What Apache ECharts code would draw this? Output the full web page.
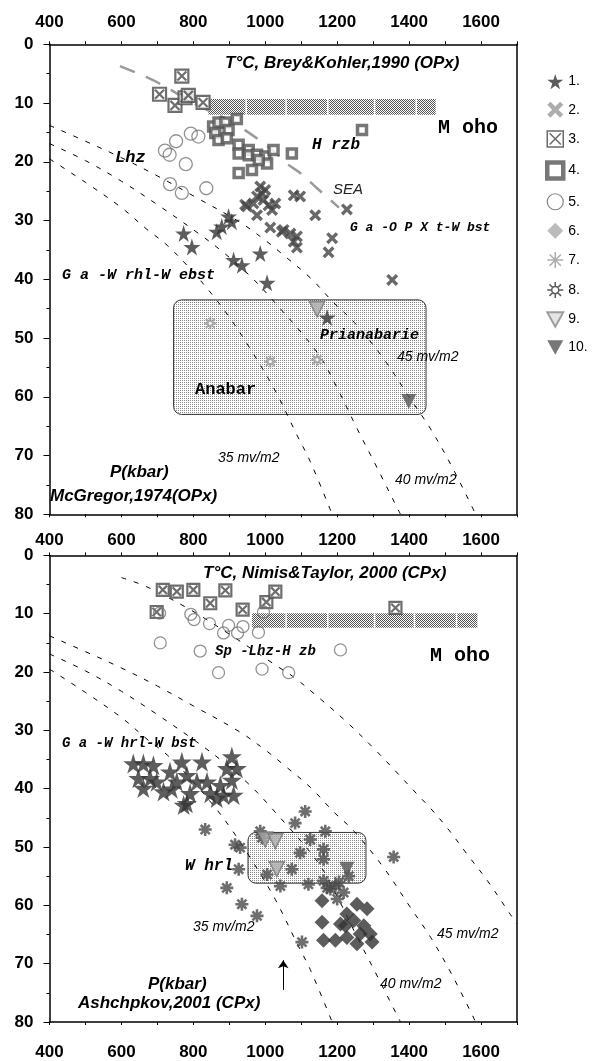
<!DOCTYPE html>
<html>
<head>
<meta charset="utf-8">
<title>P-T diagram</title>
<script src="https://cdn.jsdelivr.net/npm/echarts@6.0.0/dist/echarts.min.js"></script>
<style>
  html, body { margin: 0; padding: 0; background: #fff; }
  #main { width: 596px; height: 1061px; }
</style>
</head>
<body>
<div id="main"></div>
<script>
// --- top panel (Brey & Kohler 1990, OPx) ---
var topStars = [[773,32.2],[796,34.5],[865,31.9],[879,31],[898,29.3],[907,30.2],[912,36.7],[935,37.6],[986,35.6],[1005,40.6],[1172,46.5]];
var topCross = [[986,24.2],[991,25.4],[977,25.9],[995,26.5],[967,27.1],[1009,27.4],[1028,27.1],[949,27.6],[977,29.1],[1019,28.2],
  [1000,24.8],[944,27.3],[1079,25.7],[1097,25.9],[1139,29.1],[1227,28.1],[1014,31.2],[1046,31.9],[1051,31.6],[1070,32.2],
  [1088,32.7],[1079,33.6],[1088,34.6],[1186,33],[1176,35.4],[1353,40.1]];
var topBoxX = [[768,5.4],[706,8.5],[749,10.4],[777,9.1],[786,8.7],[827,9.9]];
var topSquares = [[855,14],[870,13.3],[889,13.3],[921,12.7],[861,15.1],[898,14.6],[870,16.3],[893,16],[926,17.1],[926,18.6],
  [954,18],[954,18.9],[977,18.8],[1000,19.1],[1005,20.3],[982,19.7],[926,21.9],[963,21.4],[1023,18],[1074,18.6],[1269,14.6]];
var topCircles = [[721,18.1],[734,18.8],[752,16.5],[793,15.2],[814,15.7],[779,20.4],[735,23.8],[768,25.3],[836,24.5]];
var topSun = [[847,47.5],[1014,54],[1144,53.7]];
var topTriOpen = [[1144,45.1]];
var topTriFill = [[1399,60.8]];

// --- bottom panel (Nimis & Taylor 2000, CPx) ---
var botBoxX = [[715,5.9],[754,6.2],[800,5.9],[847,8.2],[889,6],[937,9.3],[1003,8],[1028,6.2],[698,9.7],[1362,9]];
var botCircles = [[706,9.9],[793,10.1],[802,11],[845,11.7],[884,13.3],[898,12],[923,13.3],[938,12.2],[995,9.7],[981,13.2],
  [708,15],[819,16.4],[870,20.1],[991,19.5],[1065,20.1],[1209,16.2]];
var botStars = [[633,35.7],[661,35.7],[689,36],[647,38.2],[661,39.9],[698,38.8],[717,40.5],[735,37.1],[754,38.8],[768,35.4],
  [782,37.7],[773,42.8],[791,40.8],[824,35.4],[810,38.8],[838,38.8],[847,40.8],[875,39.4],[884,41.1],[907,34.5],
  [893,36.5],[921,36.5],[907,38.5],[912,41.1],[865,41.6],[680,38.2],[782,42.5],[740,40]];
var botAster = [[1111,43.9],[1083,45.9],[833,47],[916,49.6],[930,50.1],[986,47.3],[991,48.4],[1125,48.7],[1167,47.3],[1097,51],
  [1162,50.4],[1162,52.1],[1074,53.8],[926,53.8],[1005,54.7],[1042,56.7],[1120,56.4],[1162,55.8],[1172,57],[1195,56.7],
  [1218,57.8],[1200,58.9],[1232,55],[1357,51.7],[893,57],[935,59.8],[977,61.8],[1102,66.3],[1181,57.2],[1205,56]];
var botDiamonds = [[1158,59.2],[1158,62.9],[1255,59.8],[1283,60.6],[1227,61.5],[1209,63.2],[1246,62.6],[1274,63.5],
  [1162,66],[1195,66],[1227,65.5],[1255,66.6],[1292,64.9],[1297,66.3],[1223,63.5],[1264,64.9]];
var botTriOpen = [[1000,48.7],[1028,49],[1032,53.8]];
var botTriFill = [[1227,53.8]];

// geotherms (T, P)
var geo35 = [[400,19.5],[500,23.5],[600,27.8],[671,31.5],[727,34.2],[791,38.2],[855,42.8],[903,46.7],[960,52],[1028,59],[1088,66.5],[1125,71],[1186,80]];
var geo40 = [[400,16.9],[500,19.8],[600,23.3],[700,27.3],[810,32],[885,35.5],[959,39.5],[1020,43.5],[1145,52.5],[1200,58.5],[1256,65.5],[1302,71],[1376,80]];
var geo45 = [[400,13.8],[500,16.5],[600,19.3],[700,22.4],[800,25.8],[930,30.3],[1005,33.6],[1051,35.9],[1126,39.8],[1189,43.9],[1247,47.3],[1330,53.6],[1404,60.4],[1460,65.5],[1520,72],[1585,80]];
var geoHot = [[600,3.8],[671,5.4],[791,9.3],[900,13.5],[1033,19],[1080,20.9],[1153,24.6],[1227,28.6],[1302,33.1],[1367,37.3],[1420,40.8],[1460,43.4],[1507,46.8],[1562,51.3],[1618,55.8],[1682,61.6],[1700,63.2]];
var seaLine = [[596,3.7],[670,5.6],[716,7],[800,10],[912,13.4],[1014,17.7],[1060,20.3],[1097,21.9],[1144,24.5],[1205,27.8]];

// Moho band segment edges (T) and depth range (P)
var topMohoT = [842,949,1060,1176,1306,1422,1478];
var topMohoP = [9.3,12];
var botMohoT = [963,1060,1176,1306,1417,1534,1594];
var botMohoP = [9.9,12.4];
// boxes [Tmin, Tmax, Pmin, Pmax]
var anabarBox = [745,1447,43.5,63];
var whrlBox = [952,1280,47.5,56.2];

var xTicks = [400,600,800,1000,1200,1400,1600];

var STAR = 'path://M50,0 L61,35 L98,35 L68,57 L79,91 L50,70 L21,91 L32,57 L2,35 L39,35 Z';
var CROSS = 'path://M0,20 L20,0 L50,30 L80,0 L100,20 L70,50 L100,80 L80,100 L50,70 L20,100 L0,80 L30,50 Z';
var BOXX = 'path://M0,0 L100,0 L100,100 L0,100 Z M15,15 L85,85 M85,15 L15,85';
var ASTER = 'path://M50,0 L50,100 M0,50 L100,50 M15,15 L85,85 M85,15 L15,85';
var SUN = 'path://M50,28 A22,22 0 1,1 49.9,28 Z M50,0 L50,28 M50,72 L50,100 M0,50 L28,50 M72,50 L100,50 M14,14 L34,34 M66,66 L86,86 M86,14 L66,34 M14,86 L34,66';
var TRI = 'path://M0,0 L100,0 L50,90 Z';

var SANS = '"Liberation Sans", Arial, sans-serif';
var MONO = '"Liberation Mono", "DejaVu Sans Mono", monospace';

function dots(fg, both) {
  var c = document.createElement('canvas');
  c.width = 2; c.height = 2;
  var g = c.getContext('2d');
  g.fillStyle = '#fff'; g.fillRect(0, 0, 2, 2);
  g.fillStyle = fg; g.fillRect(0, 0, 1, 1);
  if (both) g.fillRect(1, 1, 1, 1);
  return c;
}
var boxPat = dots('#8a8a8a', false);
var mohoPat = dots('#555', true);

function segs(edges, p) {
  var out = [];
  for (var i = 0; i < edges.length - 1; i++) out.push([edges[i], edges[i + 1], p[0], p[1]]);
  return out;
}

function xAx(gi, pos, showLabel, margin) {
  return {
    gridIndex: gi, type: 'value', position: pos, min: 400, max: 1700, interval: 100,
    axisLine: { onZero: false, lineStyle: { color: '#000', width: 1.5 } },
    axisTick: { show: true, length: 3, lineStyle: { color: '#000', width: 1 } },
    axisLabel: {
      show: showLabel, margin: margin, color: '#000', fontSize: 17, fontWeight: 'bold', fontFamily: SANS,
      formatter: function (v) { return xTicks.indexOf(v) >= 0 ? String(v) : ''; }
    },
    splitLine: { show: false }
  };
}
function yAx(gi, pos, main) {
  return {
    gridIndex: gi, type: 'value', position: pos, min: 0, max: 80, interval: 10, inverse: true,
    axisLine: { onZero: false, lineStyle: { color: '#000', width: 1.5 } },
    axisTick: { show: main, length: 6, lineStyle: { color: '#000' } },
    minorTick: { show: main, splitNumber: 2, length: 3, lineStyle: { color: '#000' } },
    axisLabel: { show: main, margin: 16, color: '#000', fontSize: 17, fontWeight: 'bold', fontFamily: SANS },
    splitLine: { show: false }
  };
}

function scat(name, data, panel, symbol, size, style) {
  return {
    type: 'scatter', name: name, data: data,
    xAxisIndex: panel * 2, yAxisIndex: panel * 2,
    symbol: symbol, symbolSize: size, itemStyle: style, z: 4, silent: true
  };
}
function geo(data, panel, color, width, dash) {
  return {
    type: 'line', data: data, xAxisIndex: panel * 2, yAxisIndex: panel * 2,
    smooth: 0.35, showSymbol: false, silent: true, z: 3,
    lineStyle: { color: color, width: width, type: dash }
  };
}
function boxes(data, panel, pat, radius, stroke, gap) {
  return {
    type: 'custom', data: data, xAxisIndex: panel * 2, yAxisIndex: panel * 2,
    encode: { x: [0, 1], y: [2, 3] }, silent: true, z: 2,
    renderItem: function (params, api) {
      var a = api.coord([api.value(0), api.value(2)]);
      var b = api.coord([api.value(1), api.value(3)]);
      return {
        type: 'rect',
        shape: { x: a[0], y: a[1], width: b[0] - a[0] - gap, height: b[1] - a[1], r: radius },
        style: { fill: { image: pat, repeat: 'repeat' }, stroke: stroke, lineWidth: stroke ? 1 : 0 }
      };
    }
  };
}

var st = {
  star: { color: '#353535' },
  cross: { color: '#444' },
  boxx: { color: '#fff', borderColor: '#4a4a4a', borderWidth: 2.2 },
  sq: { color: '#fff', borderColor: '#555', borderWidth: 3.5 },
  circ: { color: 'rgba(255,255,255,0)', borderColor: '#777', borderWidth: 1.3 },
  sun: { color: '#fff', borderColor: '#999', borderWidth: 2.2 },
  triO: { color: '#aaa', borderColor: '#777', borderWidth: 1.5 },
  triF: { color: '#555' },
  aster: { color: 'rgba(0,0,0,0)', borderColor: '#4a4a4a', borderWidth: 2.6 },
  dia: { color: '#333' }
};

var series = [
  boxes(segs(topMohoT, topMohoP), 0, mohoPat, 0, null, 1.5),
  boxes([anabarBox], 0, boxPat, 8, '#333', 0),
  boxes(segs(botMohoT, botMohoP), 1, mohoPat, 0, null, 1.5),
  boxes([whrlBox], 1, boxPat, 8, '#333', 0),
  geo(geo35, 0, '#000', 1, [5, 8]),
  geo(geo40, 0, '#000', 1, [5, 8]),
  geo(geo45, 0, '#000', 1, [5, 8]),
  geo(seaLine, 0, '#9a9a9a', 2.5, [16, 12]),
  geo(geo35, 1, '#000', 1, [5, 8]),
  geo(geo40, 1, '#000', 1, [5, 8]),
  geo(geo45, 1, '#000', 1, [5, 8]),
  geo(geoHot, 1, '#000', 1, [5, 8]),
  scat('3.', topBoxX, 0, BOXX, 13, st.boxx),
  scat('4.', topSquares, 0, 'rect', 9, st.sq),
  scat('5.', topCircles, 0, 'circle', 13, st.circ),
  scat('2.', topCross, 0, CROSS, 12, st.cross),
  scat('8.', topSun, 0, SUN, 12, st.sun),
  scat('9.', topTriOpen, 0, TRI, 15, st.triO),
  scat('10.', topTriFill, 0, TRI, 15, st.triF),
  scat('1.', topStars, 0, STAR, 17, st.star),
  scat('3.', botBoxX, 1, BOXX, 12, st.boxx),
  scat('5.', botCircles, 1, 'circle', 12, st.circ),
  scat('1.', botStars, 1, STAR, 20, st.star),
  scat('7.', botAster, 1, ASTER, 13, st.aster),
  scat('6.', botDiamonds, 1, 'diamond', 15, st.dia),
  scat('9.', botTriOpen, 1, TRI, 15, st.triO),
  scat('10.', botTriFill, 1, TRI, 15, st.triF),
  {
    type: 'line', data: [], xAxisIndex: 2, yAxisIndex: 2, silent: true,
    markLine: {
      silent: true, symbol: ['none', 'arrow'], symbolSize: 8, label: { show: false },
      lineStyle: { color: '#000', width: 1, type: 'solid' },
      data: [[{ coord: [1050, 74.5] }, { coord: [1050, 69.4] }]]
    }
  }
];

var legendData = [
  { name: '1.', icon: STAR, itemStyle: { color: '#333' } },
  { name: '2.', icon: CROSS, itemStyle: { color: '#999' } },
  { name: '3.', icon: BOXX, itemStyle: { color: '#fff', borderColor: '#444', borderWidth: 1.5 } },
  { name: '4.', icon: 'rect', itemStyle: { color: '#fff', borderColor: '#555', borderWidth: 4.5 } },
  { name: '5.', icon: 'circle', itemStyle: { color: '#fff', borderColor: '#666', borderWidth: 1.2 } },
  { name: '6.', icon: 'diamond', itemStyle: { color: '#aaa' } },
  { name: '7.', icon: ASTER, itemStyle: { color: 'rgba(0,0,0,0)', borderColor: '#999', borderWidth: 1.5 } },
  { name: '8.', icon: SUN, itemStyle: { color: '#fff', borderColor: '#333', borderWidth: 1.5 } },
  { name: '9.', icon: TRI, itemStyle: { color: '#ddd', borderColor: '#888', borderWidth: 2 } },
  { name: '10.', icon: TRI, itemStyle: { color: '#555' } }
];

function txt(x, y, s, font, color) {
  return { type: 'text', x: x, y: y, silent: true, z: 10,
    style: { text: s, font: font, fill: color || '#000', align: 'left', verticalAlign: 'middle' } };
}
var BI17 = 'italic bold 17px ' + SANS;
var I14 = 'italic 14px ' + SANS;
var texts = [
  txt(225, 63, 'T°C, Brey&Kohler,1990 (OPx)', BI17),
  txt(438, 128, 'M oho', 'bold 20px ' + MONO),
  txt(312, 145, 'H rzb', 'italic bold 16px ' + MONO),
  txt(115, 158, 'Lhz', 'italic bold 17px ' + MONO),
  txt(333, 190, 'SEA', 'italic 15px ' + SANS, '#222'),
  txt(350, 228, 'G a -O P X t-W bst', 'italic bold 13px ' + MONO),
  txt(62, 275, 'G a -W rhl-W ebst', 'italic bold 15px ' + MONO),
  txt(195, 390, 'Anabar', 'bold 17px ' + MONO),
  txt(320, 335, 'Prianabarie', 'italic bold 15px ' + MONO),
  txt(397, 357, '45 mv/m2', I14),
  txt(218, 458, '35 mv/m2', I14),
  txt(395, 480, '40 mv/m2', I14),
  txt(110, 472, 'P(kbar)', BI17),
  txt(50, 496, 'McGregor,1974(OPx)', BI17),
  txt(203, 573, 'T°C, Nimis&Taylor, 2000 (CPx)', BI17),
  txt(430, 656, 'M oho', 'bold 20px ' + MONO),
  txt(215, 651, 'Sp -Lhz-H zb', 'italic bold 14px ' + MONO),
  txt(62, 743, 'G a -W hrl-W bst', 'italic bold 14px ' + MONO),
  txt(185, 866, 'W hrl', 'italic bold 16px ' + MONO),
  txt(193, 927, '35 mv/m2', I14),
  txt(437, 934, '45 mv/m2', I14),
  txt(380, 984, '40 mv/m2', I14),
  txt(148, 984, 'P(kbar)', BI17),
  txt(78, 1003, 'Ashchpkov,2001 (CPx)', BI17)
];

var chart = echarts.init(document.getElementById('main'), null, { renderer: 'canvas' });
chart.setOption({
  animation: false,
  backgroundColor: '#fff',
  grid: [
    { left: 49.5, top: 44.3, width: 467.5, height: 470 },
    { left: 49.5, top: 555.4, width: 467.5, height: 470.3 }
  ],
  xAxis: [xAx(0, 'top', true, 13), xAx(0, 'bottom', false, 8), xAx(1, 'top', true, 7), xAx(1, 'bottom', true, 22)],
  yAxis: [yAx(0, 'left', true), yAx(0, 'right', false), yAx(1, 'left', true), yAx(1, 'right', false)],
  legend: {
    orient: 'vertical', left: 540, top: 69, itemGap: 12.5, itemWidth: 16, itemHeight: 16,
    selectedMode: false, data: legendData,
    textStyle: { color: '#000', fontSize: 14, fontFamily: SANS }
  },
  graphic: texts,
  series: series
});
</script>
</body>
</html>
